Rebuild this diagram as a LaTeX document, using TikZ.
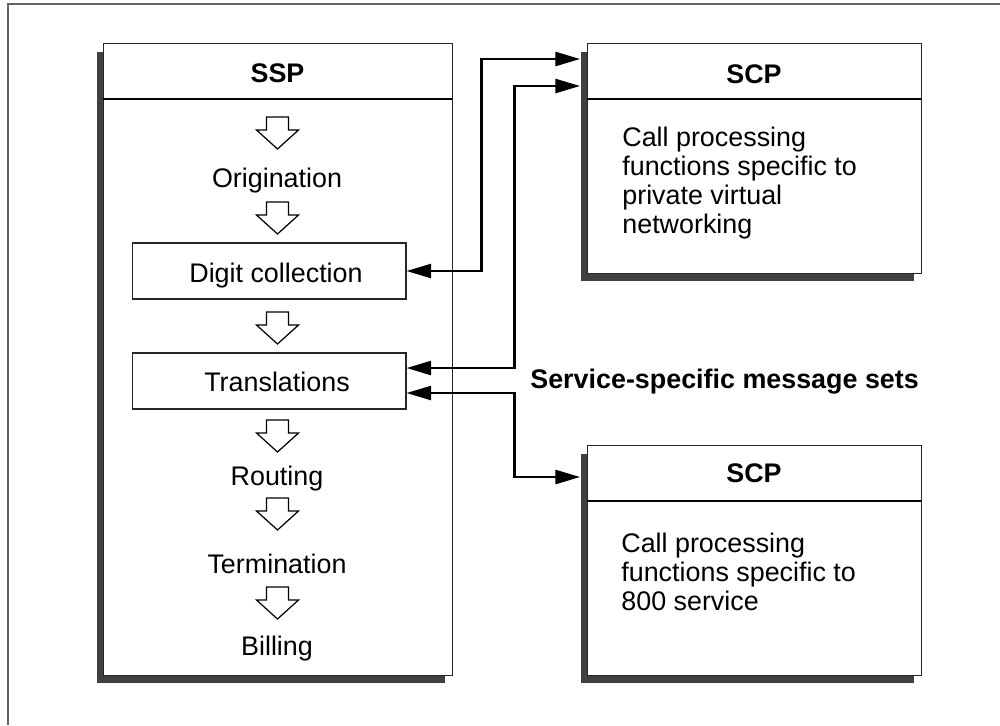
\documentclass[tikz,border=0pt]{standalone}
\usepackage{fontspec}
\setmainfont{Liberation Sans}
\usetikzlibrary{arrows.meta,shadows}
\definecolor{shade}{RGB}{64,64,64}
\definecolor{rim}{RGB}{100,100,100}

\tikzset{
  box/.style={draw=black!85, line width=0.6pt, fill=white, inner sep=0pt, anchor=north west,
    drop shadow={shadow xshift=-0.14cm, shadow yshift=-0.16cm, fill=shade, opacity=1}},
  stage/.style={draw=black!85, line width=0.6pt, inner sep=0pt, minimum width=5.48cm, minimum height=1.12cm},
  txt/.style={inner sep=0pt, anchor=base, font=\fontsize{15.3}{16.5}\selectfont},
  head/.style={txt, font=\fontsize{15.3}{16.5}\selectfont\bfseries},
  body/.style={inner sep=0pt, anchor=north west, align=left, font=\fontsize{15.3}{16.5}\selectfont},
  msg/.style={{Triangle[length=14pt,width=8pt]}-{Triangle[length=14pt,width=8pt]}, line width=1.3pt},
  flow/.pic={\draw[line width=0.7pt, fill=white, line join=miter]
    (-11,0) -- (11,0) -- (11,13) -- (21,13) -- (0,32) -- (-21,13) -- (-11,13) -- cycle;}
}

\begin{document}
\begin{tikzpicture}[x=0.02cm, y=-0.02cm]
  \useasboundingbox (0,0) rectangle (1000,725);
  \draw[rim, line width=1pt] (8,725) -- (8,4) -- (1000,4);
  % boxes
  \node[box, minimum width=6.98cm, minimum height=12.64cm] (ssp) at (103,43) {};
  \node[box, minimum width=6.68cm, minimum height=4.6cm] (scpa) at (587,43) {};
  \node[box, minimum width=6.68cm, minimum height=4.6cm] (scpb) at (587,445) {};
  \draw[line width=0.6pt] (ssp.north west) ++(0,56) -- ++(349,0);
  \draw[line width=0.6pt] (scpa.north west) ++(0,56) -- ++(334,0);
  \draw[line width=0.6pt] (scpb.north west) ++(0,56) -- ++(334,0);
  \node[head] (ssplbl) at (277.5,82) {SSP};
  \node[head] (scpalbl) at (754,83) {SCP};
  \node[head] (scpblbl) at (754,482) {SCP};
  % call stages
  \foreach \y in {117,202,312,420,498,587}
    \pic at (277.5,\y) {flow};
  \node[stage] (digits) at (269,271) {};
  \node[stage] (transl) at (269,381) {};
  \node[txt] (orig) at (277,187) {Origination};
  \node[txt] (digitslbl) at (276,282) {Digit collection};
  \node[txt] (transllbl) at (277,391) {Translations};
  \node[txt] (route) at (277,485) {Routing};
  \node[txt] (term) at (277,573) {Termination};
  \node[txt] (bill) at (277,655) {Billing};
  % SCP texts
  \node[body] (scpatxt) at (622,127) {Call processing\\functions specific to\\private virtual\\networking};
  \node[body] (scpbtxt) at (621,533) {Call processing\\functions specific to\\800 service};
  \node[head, anchor=base west] (msgsets) at (530,388) {Service-specific message sets};
  % messages
  \coordinate (ina) at (580,59);
  \coordinate (inb) at (580,86);
  \coordinate (inc) at (580,477);
  \draw[msg] (digits.east) -- ++(75,0) |- (ina);
  \draw[msg] ([yshift=0.26cm]transl.east) -- ++(108,0) |- (inb);
  \draw[msg] ([yshift=-0.24cm]transl.east) -- ++(108,0) |- (inc);
\end{tikzpicture}
\end{document}
